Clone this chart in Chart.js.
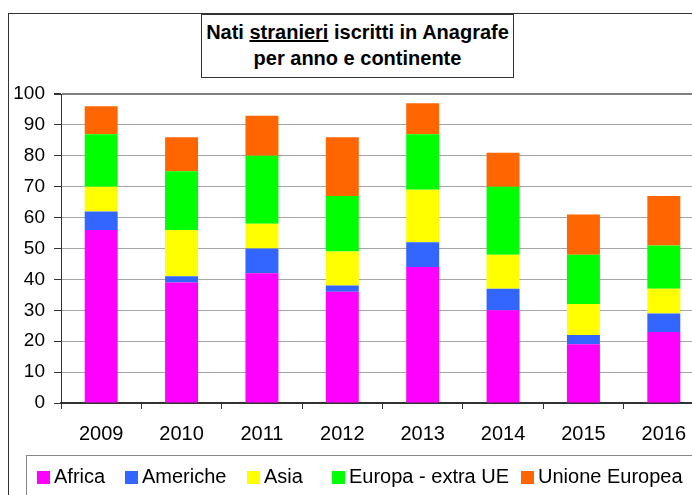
<!DOCTYPE html>
<html>
<head>
<meta charset="utf-8">
<script src="https://cdn.jsdelivr.net/npm/chart.js@4"></script>
<style>
  body { margin: 0; overflow: hidden; background: #fff; font-family: "Liberation Sans", Arial, sans-serif; color: #000; }
  #wrap { position: relative; width: 720px; height: 495px; }
  #frame { position: absolute; left: 8px; top: 13px; width: 760px; height: 600px; border: 1px solid #333; }
  #chart { position: absolute; left: 0; top: 0; }
  #title { position: absolute; left: 201px; top: 14px; width: 313px; height: 64px; box-sizing: border-box;
           border: 1px solid #333; background: #fff; text-align: center; font-weight: bold;
           font-size: 20px; line-height: 26px; padding-top: 4px; }
  #legendBox { position: absolute; left: 26px; top: 455px; width: 760px; height: 100px; border: 1px solid #888; }
  .item { position: absolute; top: 466px; font-size: 20px; line-height: 20px; white-space: nowrap; }
  .item span { display: inline-block; width: 13px; height: 13px; margin-right: 4px; vertical-align: -1px; }
</style>
</head>
<body>
<div id="wrap">
  <div id="frame"></div>
  <canvas id="chart" width="720" height="495"></canvas>
  <div id="title">Nati <u>stranieri</u> iscritti in Anagrafe<br>per anno e continente</div>
  <div id="legendBox"></div>
  <div id="legend"></div>
</div>
<script>
const years = ['2009', '2010', '2011', '2012', '2013', '2014', '2015', '2016'];
const africa = [56, 39, 42, 36, 44, 30, 19, 23];
const americhe = [6, 2, 8, 2, 8, 7, 3, 6];
const asia = [8, 15, 8, 11, 17, 11, 10, 8];
const europaExtra = [17, 19, 22, 18, 18, 22, 16, 14];
const unioneEuropea = [9, 11, 13, 19, 10, 11, 13, 16];

const seriesNames = ['Africa', 'Americhe', 'Asia', 'Europa - extra UE', 'Unione Europea'];
const seriesColors = ['#FF00FF', '#3366FF', '#FFFF00', '#00FF00', '#FF6600'];
const seriesData = [africa, americhe, asia, europaExtra, unioneEuropea];

// legend item x positions, matching the original layout
const legendX = [37, 125, 247, 332, 521];

document.addEventListener('DOMContentLoaded', () => {
    const ctx = document.getElementById('chart').getContext('2d');
    new Chart(ctx, {
        type: 'bar',
        data: {
            labels: years,
            datasets: seriesNames.map((name, i) => ({
                label: name,
                data: seriesData[i],
                backgroundColor: seriesColors[i],
                borderWidth: 0,
                categoryPercentage: 1,
                barPercentage: 0.41
            }))
        },
        options: {
            responsive: false,
            animation: false,
            layout: { padding: { top: 94, right: 16, left: 0, bottom: 0 } },
            scales: {
                x: {
                    stacked: true,
                    grid: { drawOnChartArea: false, tickLength: 6, tickColor: '#333', offset: true },
                    border: { color: '#333', width: 2 },
                    ticks: { color: '#000', padding: 13, font: { family: 'Liberation Sans', size: 20 } },
                    afterFit: (s) => { s.height = 92; }
                },
                y: {
                    stacked: true,
                    min: 0,
                    max: 100,
                    ticks: { stepSize: 10, color: '#000', padding: 9, font: { family: 'Liberation Sans', size: 19 } },
                    grid: {
                        color: (c) => c.tick && c.tick.value === 100 ? '#808080' : '#a6a6a6',
                        lineWidth: (c) => c.tick && c.tick.value === 100 ? 2 : 1,
                        tickColor: '#333',
                        tickLength: 7
                    },
                    border: { color: '#333', width: 1 },
                    afterFit: (s) => { s.width = 61; }
                }
            },
            plugins: {
                legend: { display: false },
                tooltip: { enabled: false }
            }
        }
    });

    // legend built from the series arrays
    const legend = document.getElementById('legend');
    seriesNames.forEach((name, i) => {
        const item = document.createElement('div');
        item.className = 'item';
        item.style.left = legendX[i] + 'px';
        const box = document.createElement('span');
        box.style.background = seriesColors[i];
        item.appendChild(box);
        item.appendChild(document.createTextNode(name));
        legend.appendChild(item);
    });
});
</script>
</body>
</html>
